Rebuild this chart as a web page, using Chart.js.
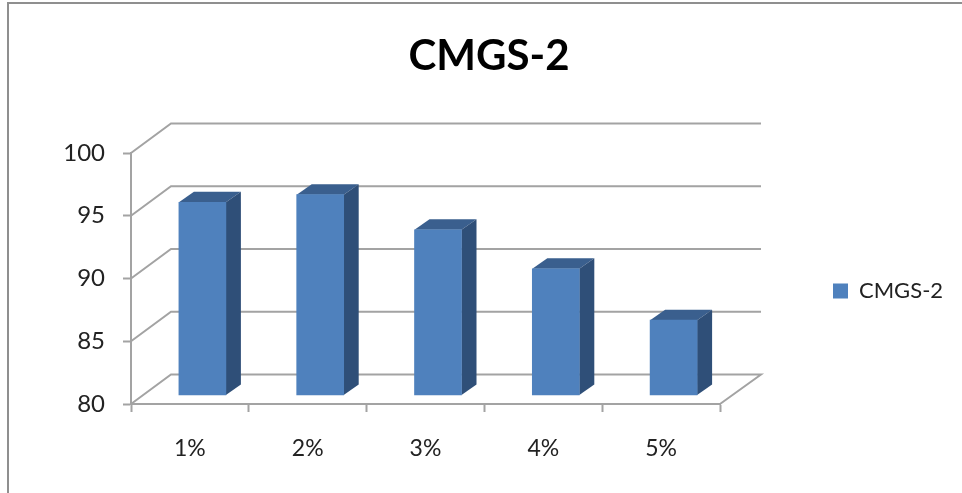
<!DOCTYPE html>
<html>
<head>
<meta charset="utf-8">
<title>CMGS-2</title>
<script src="https://cdn.jsdelivr.net/npm/chart.js@4"></script>
<style>
  html, body { margin: 0; padding: 0; background: #fff; }
  #wrap { width: 962px; height: 493px; }
</style>
</head>
<body>
<div id="wrap"><canvas id="chart" width="962" height="493"></canvas></div>
<script>
const categories = ['1%', '2%', '3%', '4%', '5%'];
const seriesName = 'CMGS-2';
const values = [95.4, 96, 93.2, 90.1, 86];
const yTicks = [80, 85, 90, 95, 100];

const depthX = 40, depthY = 29.5;   // floor depth
const shiftX = 12.5, shiftY = 8.5;  // bars stand a little into the floor
const faceX = 15, faceY = 10.5;     // depth of one bar
const gridColor = '#a3a3a3';

// fake 3D: walls and floor, bar sides, then the real bars moved onto the floor
const walls = {
  id: 'walls',
  beforeDraw(chart) {
    const c = chart.ctx;
    c.save();
    c.strokeStyle = '#8f8f8f';
    c.lineWidth = 2;
    c.beginPath();
    c.moveTo(8, 493); c.lineTo(8, 3); c.lineTo(962, 3);
    c.stroke();
    c.restore();
  },
  afterLayout(chart) {
    // legend sits right of the plot, title is centred on the whole frame
    const l = chart.legend;
    const w = l.right - l.left, h = l.bottom - l.top;
    l.left = 823; l.right = l.left + w;
    l.top = 291 - h / 2; l.bottom = 291 + h / 2;
    const t = chart.titleBlock;
    t.left = 8; t.right = 970;
  },
  beforeDatasetsDraw(chart) {
    const c = chart.ctx, y = chart.scales.y, a = chart.chartArea;
    c.save();
    c.strokeStyle = gridColor;
    c.lineWidth = 2;
    yTicks.forEach(v => {
      const py = y.getPixelForValue(v);
      c.beginPath();
      c.moveTo(a.left, py);
      c.lineTo(a.left + depthX, py - depthY);
      c.lineTo(a.right + depthX + 1, py - depthY);
      if (v === yTicks[0]) c.lineTo(a.right, py);
      c.stroke();
    });
    c.restore();

    c.save();
    c.translate(shiftX, -shiftY);
    chart.getDatasetMeta(0).data.forEach(bar => {
      const hw = bar.width / 2;
      const l = bar.x - hw, r = bar.x + hw;
      c.fillStyle = '#3a5f8e';
      c.beginPath();
      c.moveTo(l, bar.y); c.lineTo(l + faceX, bar.y - faceY);
      c.lineTo(r + faceX, bar.y - faceY); c.lineTo(r, bar.y);
      c.fill();
      c.fillStyle = '#2f4f78';
      c.beginPath();
      c.moveTo(r, bar.y); c.lineTo(r + faceX, bar.y - faceY);
      c.lineTo(r + faceX, bar.base - faceY); c.lineTo(r, bar.base);
      c.fill();
    });
    c.restore();

    c.save();
    c.translate(shiftX, -shiftY);
  },
  afterDatasetsDraw(chart) {
    chart.ctx.restore();
  }
};

new Chart(document.getElementById('chart'), {
  type: 'bar',
  data: {
    labels: categories,
    datasets: [{
      label: seriesName,
      data: values,
      base: 80,
      backgroundColor: '#4f81bd',
      barThickness: 47,
      clip: false
    }]
  },
  plugins: [walls],
  options: {
    responsive: false,
    animation: false,
    layout: { padding: { top: 0, right: 242, bottom: 0, left: 0 } },
    plugins: {
      title: {
        display: true,
        text: 'CMGS-2',
        color: '#000',
        font: { family: 'Lato', size: 42, weight: 'bold' },
        padding: { top: 31, bottom: 71.6 }
      },
      legend: {
        display: true,
        position: 'chartArea',
        labels: {
          boxWidth: 15,
          boxHeight: 15,
          color: '#222',
          font: { family: 'Lato', size: 22 }
        }
      },
      tooltip: { enabled: false }
    },
    scales: {
      x: {
        afterFit(s) { s.height = 89; },
        grid: { drawOnChartArea: false, drawTicks: true, tickLength: 8, tickColor: gridColor, tickWidth: 2 },
        border: { color: gridColor, width: 2 },
        ticks: { color: '#222', padding: 23, font: { family: 'Lato', size: 23 } }
      },
      y: {
        min: 80,
        max: 100,
        afterFit(s) { s.width = 131; },
        afterBuildTicks(s) { s.ticks = yTicks.map(v => ({ value: v })); },
        grid: { drawOnChartArea: false, drawTicks: true, tickLength: 8, tickColor: gridColor, tickWidth: 2 },
        border: { color: gridColor, width: 2 },
        ticks: { color: '#222', padding: 18, font: { family: 'Lato', size: 24 } }
      }
    }
  }
});
</script>
</body>
</html>
